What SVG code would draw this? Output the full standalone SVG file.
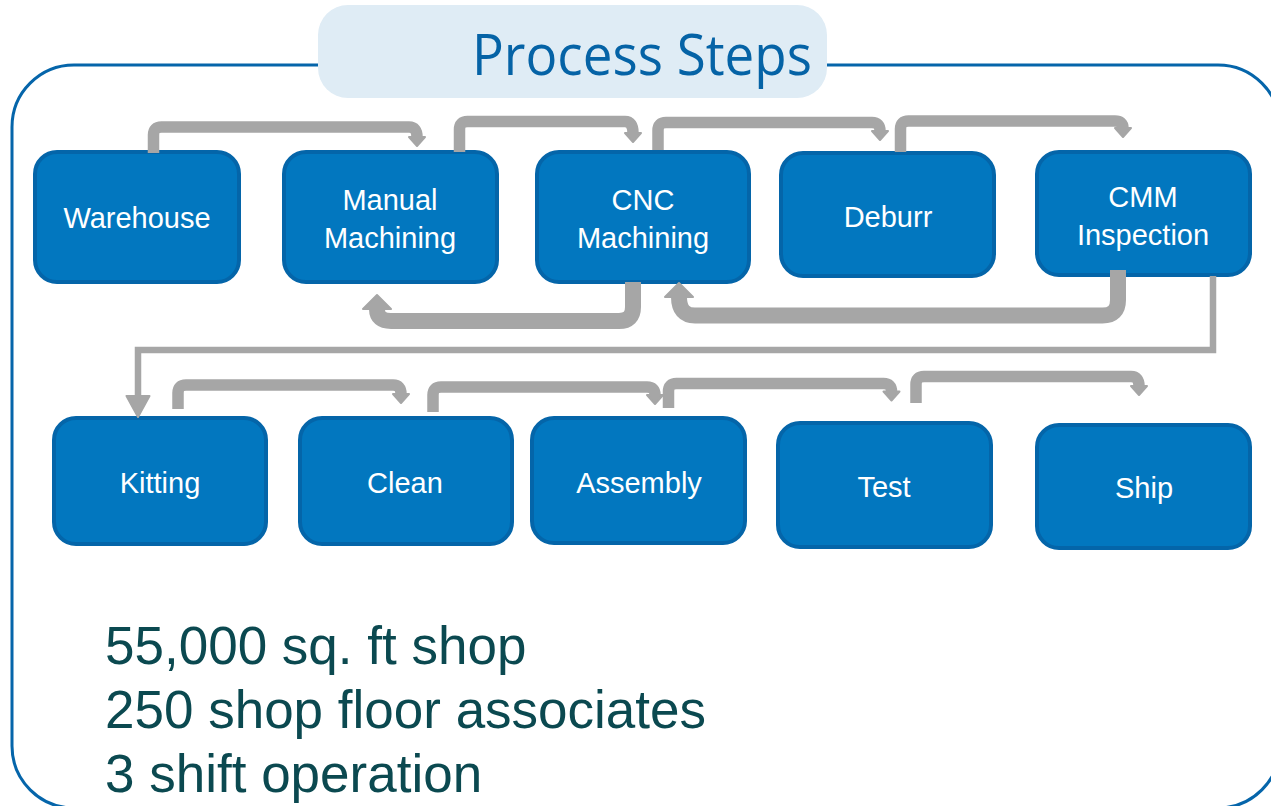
<svg xmlns="http://www.w3.org/2000/svg" width="1271" height="806" viewBox="0 0 1271 806">
  <style>
    .node rect { fill: #0277BF; stroke: #0465A9; stroke-width: 4; }
    .node text { fill: #FFFFFF; font-family: "Liberation Sans", Arial, sans-serif; font-size: 29px; text-anchor: middle; }
    .conn path { fill: none; stroke: #A6A6A6; }
    .s { stroke-width: 11.5; stroke-linejoin: round; }
    .l { stroke-width: 16; stroke-linejoin: round; }
    .t { stroke-width: 6.5; }
    .head { fill: #A6A6A6; stroke: #A6A6A6; stroke-width: 2; stroke-linejoin: round; }
    .info { fill: #0B4950; font-family: "Liberation Sans", Arial, sans-serif; font-size: 53px; }
  </style>
  <defs>
    <marker id="headS" markerUnits="userSpaceOnUse" orient="auto" overflow="visible" markerWidth="20" markerHeight="20" refX="0" refY="0">
      <polygon class="head" points="0,-8 9,0 0,8"/>
    </marker>
    <marker id="headL" markerUnits="userSpaceOnUse" orient="auto" overflow="visible" markerWidth="30" markerHeight="30" refX="0" refY="0">
      <polygon class="head" points="0,-14 14,0 0,14"/>
    </marker>
    <marker id="headT" markerUnits="userSpaceOnUse" orient="auto" overflow="visible" markerWidth="30" markerHeight="30" refX="0" refY="0">
      <polygon class="head" points="0,-11.5 21,0 0,11.5"/>
    </marker>
  </defs>

  <rect x="0" y="0" width="1271" height="806" fill="#FFFFFF"/>

  <!-- outer frame -->
  <rect id="frame" x="12" y="65" width="1268" height="743" rx="62" ry="62" fill="none" stroke="#0565AA" stroke-width="3"/>

  <!-- title -->
  <g id="title">
    <rect x="318" y="5" width="509" height="93" rx="30" ry="30" fill="#DFECF5"/>
    <text x="472" y="75" font-family="'Open Sans', 'Noto Sans', sans-serif" font-size="57" fill="#0563A6" textLength="340" lengthAdjust="spacingAndGlyphs">Process Steps</text>
  </g>

  <!-- nodes -->
  <g id="warehouse" class="node">
    <rect x="35" y="152" width="204" height="130" rx="22"/>
    <text x="137" y="228">Warehouse</text>
  </g>
  <g id="manual-machining" class="node">
    <rect x="284" y="152" width="213" height="130" rx="22"/>
    <text x="390" y="210">Manual</text>
    <text x="390" y="248">Machining</text>
  </g>
  <g id="cnc-machining" class="node">
    <rect x="537" y="152" width="212" height="130" rx="22"/>
    <text x="643" y="210">CNC</text>
    <text x="643" y="248">Machining</text>
  </g>
  <g id="deburr" class="node">
    <rect x="781" y="153" width="213" height="123" rx="22"/>
    <text x="888" y="227">Deburr</text>
  </g>
  <g id="cmm-inspection" class="node">
    <rect x="1037" y="152" width="213" height="123" rx="22"/>
    <text x="1143" y="207">CMM</text>
    <text x="1143" y="245">Inspection</text>
  </g>
  <g id="kitting" class="node">
    <rect x="54" y="418" width="212" height="126" rx="22"/>
    <text x="160" y="493">Kitting</text>
  </g>
  <g id="clean" class="node">
    <rect x="300" y="418" width="212" height="126" rx="22"/>
    <text x="405" y="493">Clean</text>
  </g>
  <g id="assembly" class="node">
    <rect x="532" y="418" width="213" height="125" rx="22"/>
    <text x="639" y="493">Assembly</text>
  </g>
  <g id="test" class="node">
    <rect x="778" y="423" width="213" height="124" rx="22"/>
    <text x="884" y="497">Test</text>
  </g>
  <g id="ship" class="node">
    <rect x="1037" y="425" width="213" height="123" rx="22"/>
    <text x="1144" y="498">Ship</text>
  </g>

  <!-- connectors -->
  <g id="connectors" class="conn">
    <!-- row 1 forward -->
    <path class="s" marker-end="url(#headS)" d="M153.5,153 V135 Q153.5,127 161.5,127 H409 Q417,127 417,137"/>
    <path class="s" marker-end="url(#headS)" d="M459.5,152 V129.5 Q459.5,121.5 467.5,121.5 H625 Q633,121.5 633,133"/>
    <path class="s" marker-end="url(#headS)" d="M658,150 V130.5 Q658,122.5 666,122.5 H872 Q880,122.5 880,131"/>
    <path class="s" marker-end="url(#headS)" d="M900.5,152 V129 Q900.5,121 908.5,121 H1115 Q1123,121 1123,128"/>
    <!-- row 1 back -->
    <path class="l" marker-end="url(#headL)" d="M633,282 V307 Q633,321 619,321 H391 Q377,321 377,309"/>
    <path class="l" marker-end="url(#headL)" d="M1118,270 V300 Q1118,315.5 1102.5,315.5 H695 Q679,315.5 679,297"/>
    <!-- CMM to Kitting -->
    <path class="t" marker-end="url(#headT)" d="M1213,276 V350 H138 V396"/>
    <!-- row 2 forward -->
    <path class="s" marker-end="url(#headS)" d="M178,409 V393 Q178,385 186,385 H393 Q401,385 401,394"/>
    <path class="s" marker-end="url(#headS)" d="M433,412 V395 Q433,387 441,387 H647 Q655,387 655,395"/>
    <path class="s" marker-end="url(#headS)" d="M668.5,408 V391.5 Q668.5,383.5 676.5,383.5 H883.5 Q891.5,383.5 891.5,391.5"/>
    <path class="s" marker-end="url(#headS)" d="M916,403 V384.5 Q916,376.5 924,376.5 H1131 Q1139,376.5 1139,386"/>
  </g>

  <!-- info text -->
  <g id="info">
    <text class="info" x="105" y="664">55,000 sq. ft shop</text>
    <text class="info" x="105" y="728">250 shop floor associates</text>
    <text class="info" x="105" y="792">3 shift operation</text>
  </g>
</svg>
